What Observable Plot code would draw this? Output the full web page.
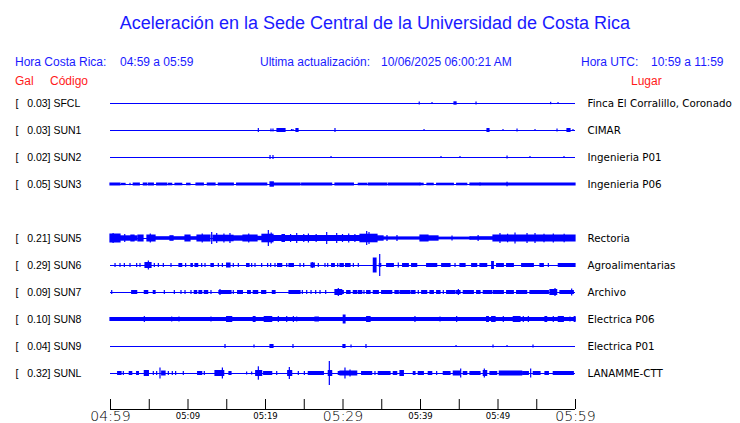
<!DOCTYPE html>
<html><head><meta charset="utf-8">
<script src="https://cdn.jsdelivr.net/npm/d3@7"></script>
<script src="https://cdn.jsdelivr.net/npm/@observablehq/plot@0.6"></script>
<style>
body{margin:0;background:#fff;}
#wrap{position:relative;width:740px;height:423px;overflow:hidden;font-family:"Liberation Sans",Arial,sans-serif;}
.t{position:absolute;white-space:pre;line-height:1;}
#chart{position:absolute;left:0;top:90px;}
</style></head><body>
<div id="wrap"><div id="chart"></div></div>
<script>
// ---- text ----
const title = "Aceleración en la Sede Central de la Universidad de Costa Rica";
const localLabel = "Hora Costa Rica:", localRange = "04:59 a 05:59";
const updLabel = "Ultima actualización:", updValue = "10/06/2025 06:00:21 AM";
const utcLabel = "Hora UTC:", utcRange = "10:59 a 11:59";
const colHeads = ["Gal", "Código", "Lugar"];

// ---- stations ----
const codes  = ["SFCL","SUN1","SUN2","SUN3","SUN5","SUN6","SUN7","SUN8","SUN9","SUNL"];
const gal    = [0.03, 0.03, 0.02, 0.05, 0.21, 0.29, 0.09, 0.10, 0.04, 0.32];
const places = ["Finca El Corralillo, Coronado","CIMAR","Ingenieria P01","Ingenieria P06",
                "Rectoria","Agroalimentarias","Archivo","Electrica P06","Electrica P01","LANAMME-CTT"];
const slots  = ["SFCL","SUN1","SUN2","SUN3",null,"SUN5","SUN6","SUN7","SUN8","SUN9","SUNL"];

// ---- time axis (minutes after 04:59) ----
const startMinute = 4*60 + 59;
const tickMinutes = [0,5,10,15,20,25,30,35,40,45,50,55,60];
const smallLabels = [10,20,40,50];
const bigLabels = [0,30,60];

// ---- trace envelopes: [start min, end min, half amplitude] ----
const sfcl = [[39.9,39.9,1.5],[41.55,41.55,1],[44.39,44.65,1.7],[47.23,47.23,1.5],[56.86,56.86,1.2],[57.81,57.81,1]];
const sun1 = [[19.14,19.14,2],[20.77,20.77,1.5],[21.03,21.03,1.5],[21.55,22.58,2],[23.42,23.42,1],[23.61,23.61,1],
  [24.0,24.26,2],[29.03,29.03,2],[40.52,40.52,1],[48.65,48.9,2],[50.71,50.71,1],[52.52,52.52,1.5],[54.84,54.84,1],
  [57.68,57.68,1.5],[58.97,59.35,2],[59.74,59.74,1]];
const sun2 = [[20.65,20.65,2],[21.03,21.03,2],[28.52,28.52,1],[42.71,42.71,1],[45.16,45.16,1],[51.23,51.23,1.5],[54.19,54.19,1],[58.58,58.58,1]];
const sun3 = [[0,1.29,1.5],[1.5,1.94,1.2],[2.58,2.58,1.2],[3.0,3.78,1.5],[4.3,4.73,1.5],[4.95,5.59,1.5],[6.02,7.31,1.5],
  [7.53,7.96,1.3],[8.39,9.25,1.3],[9.89,10.32,1.3],[11.1,12.04,1.5],[12.56,13.55,1.5],[13.98,15.91,1.5],[16.34,20.22,1.5],
  [20.65,21.07,2.7],[21.07,24.52,1.5],[24.73,28.6,1.5],[29.03,31.4,1.5],[32.04,33.12,1.3],[33.33,35.7,1.5],[35.91,40.0,1.5],
  [40.0,40.4,1.3],[40.9,41.7,1.3],[42.15,44.3,1.3],[44.73,46.03,1.3],[46.45,47.74,1.5],[47.74,60,1.5],[51.23,51.23,2.3]];
const sun5 = [[0,1.29,4.5],[0.4,0.4,5],[1.29,3.48,2.7],[1.9,1.9,4],[2.7,3.1,3.5],[3.61,4.26,3.5],[4.77,5.81,3.5],[5.2,5.2,4.5],
  [5.81,9.68,1.8],[7.74,8.13,2.8],[9.68,10.32,3.5],[10.32,11.23,1.8],[11.23,12.9,3.5],[11.9,11.9,4.5],[13.12,13.12,6],
  [13.29,15.87,3.3],[13.77,13.77,5],[14.7,14.7,4.5],[15.48,15.48,5],[15.87,17.16,2.7],[17.16,18.97,3.5],[17.9,17.9,4.5],
  [18.97,19.61,2.2],[19.61,21.03,4.3],[20.43,20.43,8],[20.8,20.8,5.5],[21.03,28.77,3],[22.2,22.5,4],[23.3,23.3,4],
  [24.09,24.09,5],[25.0,25.0,4],[25.6,25.6,4.5],[26.6,26.6,4],[27.96,27.96,6],[28.77,32.26,3],[29.25,29.25,5],
  [30.0,30.0,4],[30.8,30.8,4.5],[31.6,31.6,4],[32.26,34.45,4.3],[33.12,33.12,7],[33.42,33.42,6],[34.45,35.23,2.7],
  [35.23,40,1.6],[35.74,35.74,3],[37.03,37.03,3],[40,41.03,3.5],[41.03,42.32,2.7],[42.32,46.45,1.4],[44.13,44.13,2.5],
  [46.45,49.42,1.8],[47.5,47.5,3],[49.42,60,3.5],[50.32,50.32,5],[51.3,51.3,4.3],[52.26,52.26,5.5],[53.81,53.81,5],
  [54.84,54.84,5],[56.0,56.0,4.3],[57.2,57.2,4.5],[58.6,58.6,4.3]];
const sun6 = [[0.65,0.65,2],[1.29,1.29,2],[1.85,1.85,2],[2.58,2.58,2],[3.44,3.44,2],[3.87,3.87,2],[4.52,5.29,3],[4.95,4.95,4.5],
  [5.72,5.72,2],[6.24,6.24,2],[6.88,6.88,2],[7.87,7.87,2],[8.9,9.25,2],[9.76,9.76,2],[10.45,10.62,2],[10.97,11.31,2],
  [11.83,11.83,2],[12.26,12.26,2],[13.03,13.33,2],[13.98,13.98,2],[14.5,14.5,2],[15.05,15.48,2.5],[15.91,15.91,2],
  [16.56,16.56,2],[17.63,17.94,2],[18.28,18.28,2],[18.71,18.71,2],[19.57,19.57,2],[20.34,20.34,2],[20.73,20.73,2],
  [21.29,21.29,2],[21.63,22.15,2],[22.8,22.8,2],[23.1,23.66,2],[24.52,24.52,2],[24.99,24.99,2],[25.94,26.36,2.5],
  [26.1,26.1,3],[26.88,26.88,2],[27.74,27.74,2],[28.09,28.09,2],[28.6,28.94,2],[29.38,29.38,2],[29.68,30.1,2],
  [30.4,30.97,2],[31.4,31.4,2],[32.04,32.04,2],[33.98,34.32,7.5],[34.75,34.93,2],[34.8,34.8,11],[35.7,36.56,2],
  [37.2,37.2,2.5],[37.76,38.49,2],[38.92,39.57,2],[40.86,42.15,2],[42.8,43.87,2],[44.52,44.52,2],[45.16,45.81,2],
  [46.67,47.31,2],[47.74,48.6,2],[49.25,49.46,4],[49.89,50.75,2],[51.18,52.04,2],[53.12,54.62,2],[55.48,55.91,2],
  [56.56,56.56,2],[57.85,60,2]];
const sun7 = [[0.22,0.22,2],[2.8,3.44,2],[4.43,4.86,2],[5.59,5.81,2],[7.01,7.01,2],[8.3,8.3,2],[9.16,9.16,2],[9.68,9.68,2],
  [10.45,10.45,2],[10.88,11.18,2],[11.48,11.83,2],[12.17,12.6,2],[13.03,13.03,2],[14.06,15.61,2],[14.19,14.19,3],
  [15.91,15.91,2],[16.47,17.08,2],[17.76,18.1,2],[18.49,19.05,2],[19.57,20.09,2],[20.95,21.29,2],[23.1,24.52,2],
  [24.82,24.82,2],[25.38,25.38,2],[25.94,25.94,2],[26.54,26.54,2],[27.1,27.1,2],[27.83,27.83,2],[29.03,29.89,3],
  [29.46,29.46,4],[29.68,30.1,2],[30.54,30.97,2],[31.4,31.83,2],[32.04,32.48,2],[32.77,32.77,2],[33.12,33.55,2],
  [33.98,34.62,2],[35.05,36.35,2],[36.77,37.2,2],[37.42,38.71,2],[38.92,39.35,2],[39.78,39.78,2],[40.22,40.86,2],
  [41.29,41.72,2],[42.15,42.58,2],[43.01,43.01,2],[43.44,44.52,2],[44.73,45.16,2],[44.95,44.95,3],[45.59,46.88,2],
  [47.31,47.74,2],[48.17,49.25,2],[49.46,50.75,2],[51.18,52.04,2],[52.47,53.76,2],[54.19,56.56,2],[56.77,57.63,3],
  [57.42,57.42,4],[58.06,59.78,2],[59.57,59.57,3.5]];
const sun8 = [[0,60,2],[4.43,4.43,3],[7.96,7.96,2.5],[8.9,8.9,2.5],[13.03,13.03,2.5],[15.05,15.7,3],[18.49,18.71,3],
  [19.91,20.86,3],[21.72,21.72,3],[22.8,22.8,3],[23.66,23.66,3],[24.09,24.09,2.5],[26.45,26.88,2.5],[30.1,30.32,4.5],
  [33.12,33.55,3],[39.35,39.35,3],[42.58,42.58,2.5],[44.73,44.73,3],[48.6,48.82,3],[49.25,49.68,3],[50.75,50.75,3],
  [52.04,52.9,3],[53.33,53.33,3],[53.98,53.98,3],[56.13,56.34,3],[57.2,57.2,3],[57.85,58.49,3],[59.35,59.35,2.5],[59.9,60,3]];
const sun9 = [[14.84,14.84,2],[18.58,18.58,1.5],[20.65,21.03,2],[23.61,23.61,2],[30.06,30.32,2],[31.1,31.1,1.5],
  [33.03,33.03,2],[44.65,44.65,1],[49.42,49.42,1.5],[51.23,51.23,1],[54.58,54.58,1.5]];
const sunl = [[0.99,1.42,2],[1.72,1.72,2],[2.49,2.8,2],[3.44,3.66,2],[4.43,4.95,3],[5.59,5.59,2],[6.02,6.02,2],[6.45,6.45,5.5],
  [6.67,7.1,2.5],[7.53,7.53,2],[8.04,8.04,2],[8.47,8.47,2],[9.46,9.46,2],[11.31,11.83,2],[12.17,12.17,2],[13.55,14.67,3],
  [14.5,14.5,5.5],[15.35,15.61,2],[17.63,17.63,1.5],[18.28,18.28,1.5],[18.8,19.57,3],[19.14,19.14,6.7],[19.83,20.86,2],
  [21.51,21.51,2],[22.93,23.44,3],[23.14,23.14,6],[24.3,24.3,2],[25.08,25.08,2],[25.59,27.53,2],[28.17,28.6,3],
  [28.3,28.3,12],[29.46,30.32,2],[29.68,31.83,2.5],[30.32,30.32,5.5],[30.97,30.97,3.5],[32.47,33.76,2],[34.19,34.19,2],
  [34.62,36.13,2],[36.56,36.99,2],[37.42,37.85,3],[39.14,39.35,2],[39.78,40.43,2],[41.07,41.51,2],[42.15,42.15,2],
  [43.01,43.87,2],[44.3,45.16,2.5],[45.25,45.25,4.5],[45.59,46.03,2],[46.45,47.74,2],[48.17,48.6,3],[48.3,48.3,4.5],
  [49.03,49.89,2],[50.24,53.12,2.5],[53.25,53.98,2],[54.28,54.28,4.5],[54.62,55.48,2],[56.13,56.56,2],[57.2,59.78,2]];
const traces = {SFCL: sfcl, SUN1: sun1, SUN2: sun2, SUN3: sun3, SUN5: sun5, SUN6: sun6, SUN7: sun7, SUN8: sun8, SUN9: sun9, SUNL: sunl};

// ---- build tables ----
const rowGap = 27;
const stations = codes.map((c, i) => ({code: c, gal: gal[i], place: places[i], base: slots.indexOf(c) * rowGap}));
const events = stations.flatMap(s => traces[s.code].map(([t1, t2, a]) => ({t1, t2, lo: s.base - a, hi: s.base + a})));
const fmt = m => { const t = startMinute + m; return String(Math.floor(t / 60)).padStart(2, "0") + ":" + String(t % 60).padStart(2, "0"); };
const nb = "\u00a0";
const label = d => "[" + nb.repeat(3) + d.gal.toFixed(2) + "]" + nb + d.code;

// ---- header (HTML above the plot) ----
const wrap = document.getElementById("wrap");
function addText(txt, style) {
  const el = document.createElement("div");
  el.className = "t"; el.textContent = txt;
  Object.assign(el.style, style);
  wrap.appendChild(el);
}
const blue = "#1a1aff", red = "#ff1a1a";
addText(title, {left: "5px", width: "740px", textAlign: "center", top: "14px", fontSize: "18px", color: blue});
addText(localLabel, {left: "15px", top: "56px", fontSize: "12px", color: blue});
addText(localRange, {left: "120px", top: "56px", fontSize: "12px", color: blue});
addText(updLabel, {left: "260px", top: "56px", fontSize: "12px", color: blue});
addText(updValue, {left: "381px", top: "56px", fontSize: "12px", color: blue});
addText(utcLabel, {left: "581px", top: "56px", fontSize: "12px", color: blue});
addText(utcRange, {left: "651px", top: "56px", fontSize: "12px", color: blue});
addText(colHeads[0], {left: "15px", top: "75px", fontSize: "12px", color: red});
addText(colHeads[1], {left: "50px", top: "75px", fontSize: "12px", color: red});
addText(colHeads[2], {left: "631px", top: "75px", fontSize: "12px", color: red});

// ---- plot ----
const traceColor = "#0000ff";
const axisBase = 306;
const plot = Plot.plot({
  width: 740, height: 333,
  marginLeft: 110, marginRight: 165, marginTop: 0, marginBottom: 14,
  x: {domain: [0, 60], axis: null},
  y: {domain: [0, 270], range: [13, 283], axis: null},
  style: {background: "white"},
  marks: [
    Plot.ruleY(stations, {y: "base", x1: 0, x2: 60, stroke: traceColor, strokeWidth: 1}),
    Plot.rect(events, {x1: "t1", x2: "t2", y1: "lo", y2: "hi", fill: traceColor, insetLeft: -0.6, insetRight: -0.6}),
    Plot.text(stations, {y: "base", text: label, frameAnchor: "left", dx: -95, textAnchor: "start",
      fontFamily: "Liberation Sans", fontSize: 10.5, fill: "black", dy: 0.5}),
    Plot.text(stations, {y: "base", text: "place", frameAnchor: "right", dx: 12, textAnchor: "start",
      fontFamily: "DejaVu Sans", fontSize: 10.3, fill: "black", dy: 0.5}),
    Plot.ruleY([axisBase], {x1: 0, x2: 60, stroke: "black", strokeWidth: 1.2}),
    Plot.ruleX(tickMinutes, {x: d => d, y1: axisBase - 10, y2: axisBase, stroke: "black", strokeWidth: 1}),
    Plot.axisX(smallLabels, {tickSize: 0, tickPadding: 3, tickFormat: fmt, fontFamily: "DejaVu Sans", fontSize: 8.5, fill: "black"}),
    Plot.axisX(bigLabels, {tickSize: 0, tickPadding: 2, tickFormat: fmt, fontFamily: "DejaVu Sans", fontWeight: 200, fontSize: 14, fill: "black"})
  ]
});
document.getElementById("chart").appendChild(plot);
</script>
</body></html>
